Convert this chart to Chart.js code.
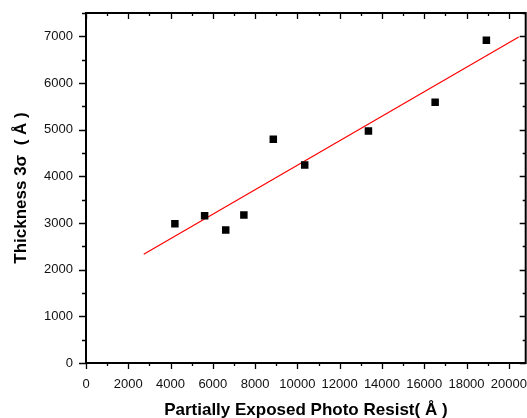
<!DOCTYPE html>
<html>
<head>
<meta charset="utf-8">
<script src="https://cdn.jsdelivr.net/npm/chart.js@4/dist/chart.umd.min.js"></script>
<style>
  html, body { margin: 0; padding: 0; background: #fff; overflow: hidden; }
  /* plot frame runs a few px past the right edge of the window, as in the source */
  #chart { display: block; }
</style>
</head>
<body>
<canvas id="chart" width="531" height="418"></canvas>
<script>
const resistX = [4205, 5611, 6610, 7468, 8860, 10347, 13361, 16516, 18940]
const thickness = [2983, 3154, 2848, 3169, 4793, 4244, 4970, 5590, 6915]
// x span covered by the fitted line
const fitRange = [2730, 20470]
// labelled (major) ticks
const xTickLabels = [0, 2000, 4000, 6000, 8000, 10000, 12000, 14000, 16000, 18000, 20000]
const yTickLabels = [0, 1000, 2000, 3000, 4000, 5000, 6000, 7000]

// add one minor tick halfway between each pair of majors
function withMinor(major) {
  const out = []
  const step = major[1] - major[0]
  major.forEach(v => { out.push(v); out.push(v + step / 2) })
  return out
}
const xTickValues = withMinor(xTickLabels)
const yTickValues = withMinor(yTickLabels)

function linearFit(xs, ys) {
  const n = xs.length
  const mx = xs.reduce((a, b) => a + b, 0) / n
  const my = ys.reduce((a, b) => a + b, 0) / n
  let sxy = 0, sxx = 0
  for (let i = 0; i < n; i++) {
    sxy += (xs[i] - mx) * (ys[i] - my)
    sxx += (xs[i] - mx) * (xs[i] - mx)
  }
  const slope = sxy / sxx
  return { slope: slope, intercept: my - slope * mx }
}

const fit = linearFit(resistX, thickness)
const fitLine = fitRange.map(x => ({ x: x, y: fit.intercept + fit.slope * x }))
const points = resistX.map((x, i) => ({ x: x, y: thickness[i] }))

// box frame + origin style ticks (major/minor, mirrored on top/right)
const framePlugin = {
  id: 'frame',
  afterDraw(chart) {
    const { ctx, chartArea: a, scales } = chart
    const xs = scales.x, ys = scales.y
    ctx.save()
    ctx.strokeStyle = '#000'
    ctx.lineWidth = 1.3
    ctx.beginPath()
    xs.ticks.forEach(t => {
      const px = Math.round(xs.getPixelForValue(t.value)) + 0.5
      const len = xTickLabels.includes(t.value) ? 6 : 3
      ctx.moveTo(px, a.bottom); ctx.lineTo(px, a.bottom + len)
      ctx.moveTo(px, a.top); ctx.lineTo(px, a.top + len)
    })
    ys.ticks.forEach(t => {
      const py = Math.round(ys.getPixelForValue(t.value)) + 0.5
      const len = yTickLabels.includes(t.value) ? 7 : 4
      ctx.moveTo(a.left, py); ctx.lineTo(a.left - len, py)
      ctx.moveTo(a.right, py); ctx.lineTo(a.right - len + 1, py)
    })
    ctx.stroke()
    ctx.lineWidth = 2
    ctx.strokeRect(a.left, a.top, a.right - a.left, a.bottom - a.top)
    ctx.restore()
  }
}

const tickFont = { family: 'Liberation Sans, Arial, sans-serif', size: 13 }
const titleFont = { family: 'Liberation Sans, Arial, sans-serif', size: 17, weight: 'bold' }

const ctx = document.getElementById('chart').getContext('2d')
new Chart(ctx, {
  type: 'scatter',
  data: {
    datasets: [
      {
        label: 'data',
        data: points,
        pointStyle: 'rect',
        pointRadius: 5.3,
        pointHoverRadius: 5.3,
        backgroundColor: '#000',
        borderColor: '#000',
        borderWidth: 0,
        order: 1,
      },
      {
        label: 'fit',
        type: 'line',
        data: fitLine,
        borderColor: '#ff0000',
        borderWidth: 1.2,
        pointRadius: 0,
        fill: false,
        order: 2,
      },
    ]
  },
  options: {
    responsive: false,
    animation: false,
    events: [],
    layout: { padding: { top: 13, right: 0, left: 0, bottom: 0 } },
    plugins: {
      legend: { display: false },
      tooltip: { enabled: false },
    },
    scales: {
      x: {
        type: 'linear',
        min: 0,
        max: 20800,
        grid: { display: false, drawTicks: false },
        border: { display: false },
        afterBuildTicks: s => { s.ticks = xTickValues.filter(v => v <= s.max).map(v => ({ value: v })) },
        ticks: {
          autoSkip: false,
          maxRotation: 0,
          padding: 14,
          color: '#111',
          font: tickFont,
          callback: v => xTickLabels.includes(v) ? String(v) : '',
        },
        title: {
          display: true,
          text: 'Partially Exposed Photo Resist( Å )',
          color: '#000',
          padding: { top: 0, bottom: -3 },
          font: titleFont,
        },
        afterFit: s => { s.height = 55; s.paddingLeft = 0; s.paddingRight = 0 },
      },
      y: {
        type: 'linear',
        min: 0,
        max: 7500,
        grid: { display: false, drawTicks: false },
        border: { display: false },
        afterBuildTicks: s => { s.ticks = yTickValues.filter(v => v <= s.max).map(v => ({ value: v })) },
        ticks: {
          autoSkip: false,
          padding: 13,
          color: '#111',
          font: tickFont,
          callback: v => yTickLabels.includes(v) ? String(v) : '',
        },
        title: {
          display: true,
          text: 'Thickness 3σ  ( Å )',
          color: '#000',
          padding: { top: 11, bottom: 0 },
          font: titleFont,
        },
        afterFit: s => { s.width = 86; s.paddingTop = 0; s.paddingBottom = 0 },
      },
    },
  },
  plugins: [framePlugin],
})
</script>
</body>
</html>
